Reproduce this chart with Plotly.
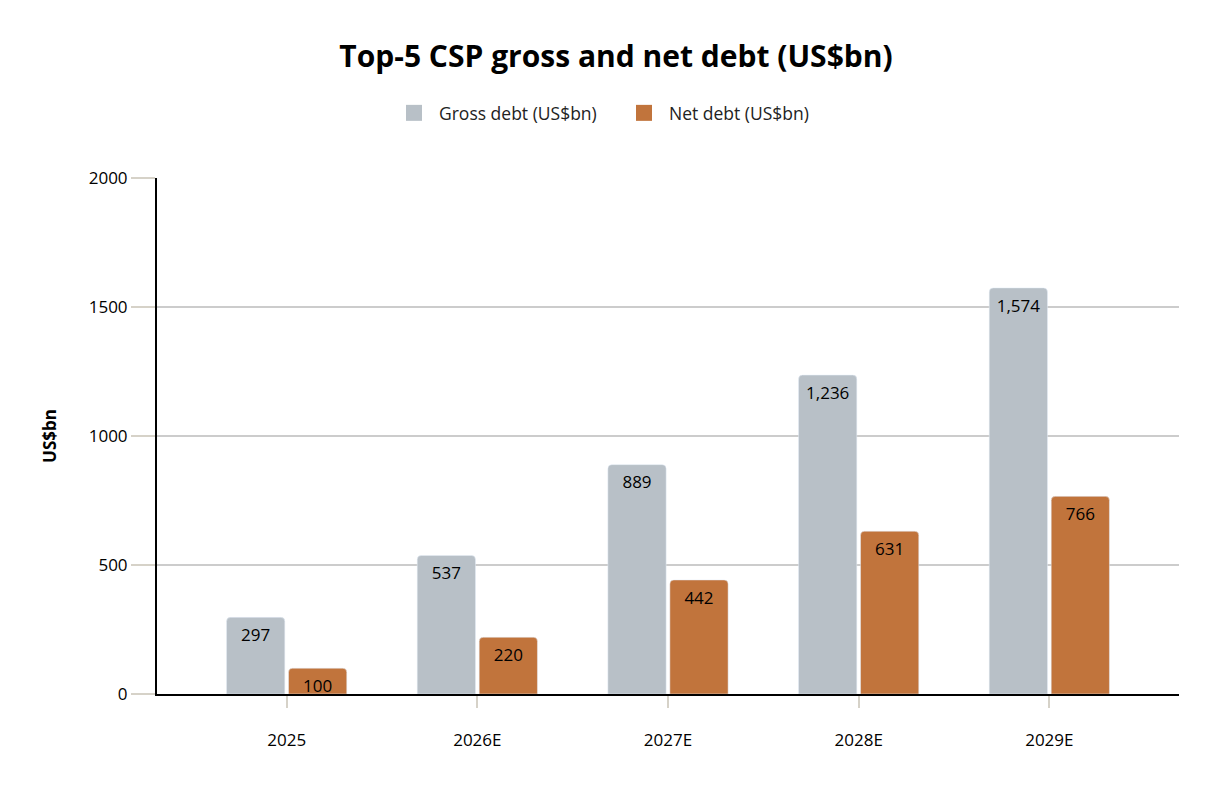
import plotly.graph_objects as go

# data
years = ["2025", "2026E", "2027E", "2028E", "2029E"]
gross_debt = [297, 537, 889, 1236, 1574]
net_debt = [100, 220, 442, 631, 766]
series_names = ["Gross debt (US$bn)", "Net debt (US$bn)"]

GREY = "#b8c0c7"
ORANGE = "#c1743c"
FONT = "Open Sans"

fig = go.Figure()
for vals, name, col, grp in [(gross_debt, series_names[0], GREY, "g"),
                             (net_debt, series_names[1], ORANGE, "n")]:
    fig.add_trace(go.Bar(x=years, y=vals, name=name, showlegend=False,
                         offsetgroup=grp,
                         marker=dict(color=col, cornerradius=4)))
    # value labels under the bar tops (invisible marker pushes text down)
    fig.add_trace(go.Scatter(x=years, y=vals, mode="markers+text",
                             showlegend=False, offsetgroup=grp,
                             hoverinfo="skip",
                             marker=dict(size=16, color="rgba(0,0,0,0)"),
                             texttemplate="%{y:,}", textposition="bottom center",
                             textfont=dict(color="black", size=17, family=FONT)))
    # bigger square swatches for the legend
    fig.add_trace(go.Scatter(x=[years[0]], y=[None], mode="markers", name=name,
                             offsetgroup=grp,
                             marker=dict(symbol="square", size=22, color=col)))

fig.update_layout(
    width=1216, height=790,
    paper_bgcolor="white", plot_bgcolor="white",
    font=dict(family=FONT, size=17, color="black"),
    title=dict(text="<b>Top-5 CSP gross and net debt (US$bn)</b>",
               x=0.5, xanchor="center", y=0.938, yanchor="middle",
               font=dict(size=30, family=FONT, color="black")),
    legend=dict(orientation="h", x=0.227, xanchor="left",
                y=1.126, yanchor="middle",
                font=dict(size=17.5, color="#222"), itemwidth=40,
                entrywidth=175, entrywidthmode="pixels",
                traceorder="normal"),
    barmode="group", bargap=0.35, bargroupgap=0.06,
    scattermode="group", scattergap=0.35,
    margin=dict(l=149, r=45, t=170, b=104),
)
fig.update_xaxes(range=[-0.68, 4.68], showline=True, linecolor="black",
                 linewidth=2, ticks="outside", ticklen=12,
                 tickcolor="#d6d2c8", tickwidth=2, showgrid=False,
                 tickfont=dict(size=17), ticklabelstandoff=18)
fig.update_yaxes(range=[0, 2000], tickvals=[0, 500, 1000, 1500, 2000],
                 showline=True, linecolor="black", linewidth=2,
                 ticks="outside", ticklen=24, tickcolor="#d6d2c8",
                 tickwidth=2, gridcolor="#cccccc", gridwidth=1.5,
                 zeroline=False, tickfont=dict(size=17),
                 title=dict(text="<b>US$bn</b>", font=dict(size=17),
                            standoff=28))

fig.write_html("out.html")
